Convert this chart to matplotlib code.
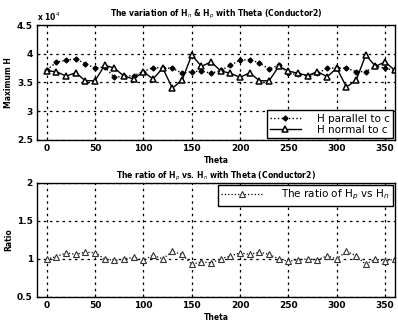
import matplotlib
matplotlib.use("Agg")
import matplotlib.pyplot as plt
import numpy as np

theta = list(range(0, 361, 10))
h_parallel = [3.72, 3.85, 3.89, 3.91, 3.83, 3.75, 3.77, 3.59, 3.61, 3.62,
              3.69, 3.76, 3.75, 3.75, 3.66, 3.69, 3.70, 3.66, 3.71, 3.80,
              3.89, 3.90, 3.84, 3.73, 3.80, 3.66, 3.64, 3.62, 3.66, 3.75,
              3.75, 3.75, 3.69, 3.69, 3.78, 3.75, 3.71]
h_normal = [3.70, 3.69, 3.61, 3.67, 3.53, 3.53, 3.80, 3.75, 3.61, 3.56,
            3.69, 3.56, 3.75, 3.40, 3.54, 3.98, 3.78, 3.86, 3.70, 3.66,
            3.59, 3.67, 3.53, 3.53, 3.78, 3.70, 3.66, 3.62, 3.69, 3.60,
            3.75, 3.42, 3.54, 3.98, 3.78, 3.86, 3.71]
ratio = [1.00, 1.03, 1.08, 1.06, 1.09, 1.08, 1.00, 0.98, 1.00, 1.02,
         0.98, 1.05, 1.00, 1.10, 1.06, 0.93, 0.96, 0.95, 1.00, 1.04,
         1.08, 1.06, 1.09, 1.06, 1.00, 0.97, 0.99, 1.00, 0.99, 1.04,
         1.00, 1.10, 1.04, 0.93, 1.00, 0.97, 1.00]

fig = plt.figure(figsize=(3.98, 3.26), dpi=100)
fig.patch.set_facecolor("white")

tick_fs = 6.5
ax1 = fig.add_axes([0.093, 0.571, 0.899, 0.352])
ax1.plot(theta, np.array(h_parallel) * 1e4, color="black", linestyle=":", linewidth=1.0,
         marker="D", markersize=2.5, markerfacecolor="black", markeredgecolor="black",
         label="H parallel to c")
ax1.plot(theta, np.array(h_normal) * 1e4, color="black", linestyle="-", linewidth=1.0,
         marker="^", markersize=4.5, markerfacecolor="white", markeredgecolor="black",
         markeredgewidth=1.1, label="H normal to c")
ax1.set_xlim(-10, 360)
ax1.set_ylim(2.5e4, 4.5e4)
ax1.set_yticks([2.5e4, 3e4, 3.5e4, 4e4, 4.5e4])
ax1.set_yticklabels(["2.5", "3", "3.5", "4", "4.5"])
ax1.set_xticks(range(0, 351, 50))
ax1.text(0.0, 1.02, r"x 10$^4$", transform=ax1.transAxes, fontsize=5.5,
         fontweight="bold", ha="left", va="bottom")
ax1.set_title(r"The variation of H$_n$ & H$_p$ with Theta (Conductor2)",
              fontsize=5.5, fontweight="bold", pad=6)
ax1.set_xlabel("Theta", fontsize=5.5, fontweight="bold", labelpad=2)
ax1.set_ylabel("Maximum H", fontsize=5.5, fontweight="bold", labelpad=3)
leg1 = ax1.legend(loc="lower right", fontsize=7.5, handlelength=3.0, borderpad=0.3,
                  labelspacing=0.1, handletextpad=1.5, fancybox=False, framealpha=1,
                  edgecolor="black", borderaxespad=0.2)
leg1.get_frame().set_linewidth(1.0)

ax2 = fig.add_axes([0.093, 0.089, 0.899, 0.350])
ax2.plot(theta, ratio, color="black", linestyle=":", linewidth=0.9,
         marker="^", markersize=4, markerfacecolor="white", markeredgecolor="#333333",
         markeredgewidth=0.8, label=r"The ratio of H$_p$ vs H$_n$")
ax2.set_xlim(-10, 360)
ax2.set_ylim(0.5, 2)
ax2.set_yticks([0.5, 1, 1.5, 2])
ax2.set_yticklabels(["0.5", "1", "1.5", "2"])
ax2.set_xticks(range(0, 351, 50))
ax2.set_title(r"The ratio of H$_p$ vs. H$_n$ with Theta (Conductor2)",
              fontsize=5.5, fontweight="bold", pad=3)
ax2.set_xlabel("Theta", fontsize=5.5, fontweight="bold", labelpad=2)
ax2.set_ylabel("Ratio", fontsize=5.5, fontweight="bold", labelpad=3)
leg2 = ax2.legend(loc="upper right", fontsize=7.5, handlelength=4.0, borderpad=0.3,
                  handletextpad=1.8, fancybox=False, framealpha=1,
                  edgecolor="black", borderaxespad=0.2, bbox_to_anchor=(1.0, 1.0))
leg2.get_frame().set_linewidth(1.0)

for ax in (ax1, ax2):
    ax.grid(True, color="black", linestyle=(0, (2, 3)), linewidth=0.9)
    ax.tick_params(labelsize=tick_fs, direction="in", length=2, width=0.8, pad=3)
    for lab in ax.get_xticklabels() + ax.get_yticklabels():
        lab.set_fontweight("bold")
    for sp in ax.spines.values():
        sp.set_linewidth(1.0)
    ax.set_axisbelow(True)

fig.savefig("out.png", dpi=100)
